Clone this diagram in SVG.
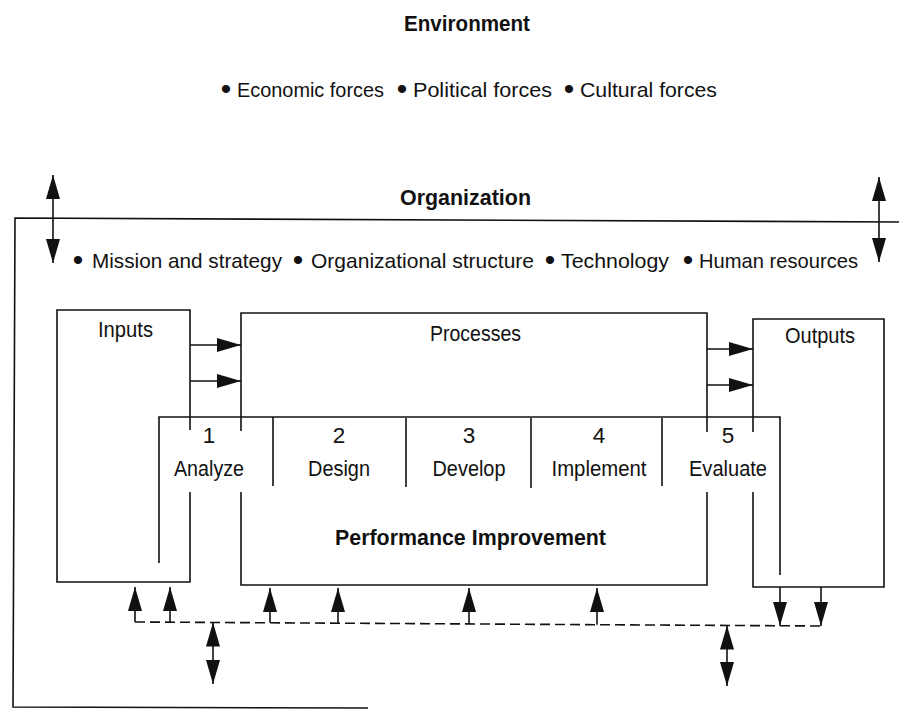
<svg xmlns="http://www.w3.org/2000/svg" width="899" height="709" viewBox="0 0 899 709">
  <style>
    .ln { fill: none; stroke: #111; stroke-width: 1.6; }
    .dash { fill: none; stroke: #111; stroke-width: 1.6; stroke-dasharray: 10 5; }
    .t { font-family: "Liberation Sans", Arial, sans-serif; font-size: 22.5px; fill: #111; }
    .f { font-family: "Liberation Sans", Arial, sans-serif; font-size: 21px; fill: #111; }
    .tb { font-family: "Liberation Sans", Arial, sans-serif; font-size: 22.5px; font-weight: bold; fill: #111; }
    .bul { font-family: "Liberation Sans", Arial, sans-serif; font-size: 30px; fill: #111; text-anchor: middle; }
    .mid { text-anchor: middle; }
    .arr { fill: none; stroke: #111; stroke-width: 1.6; marker-end: url(#ah); }
    .dbl { fill: none; stroke: #111; stroke-width: 1.6; marker-start: url(#ah); marker-end: url(#ah); }
  </style>
  <defs>
    <marker id="ah" viewBox="0 0 24 14" refX="24" refY="7" markerWidth="24" markerHeight="14" markerUnits="userSpaceOnUse" orient="auto-start-reverse">
      <path d="M0,0 L24,7 L0,14 z" fill="#111"/>
    </marker>
  </defs>

  <rect width="899" height="709" fill="#fff"/>

  <!-- Environment -->
  <g id="environment">
    <text class="tb" x="404" y="31" textLength="126" lengthAdjust="spacingAndGlyphs">Environment</text>
    <text class="bul" x="226" y="99">•</text>
    <text class="f" x="237" y="97" textLength="147" lengthAdjust="spacingAndGlyphs">Economic forces</text>
    <text class="bul" x="402" y="99">•</text>
    <text class="f" x="413" y="97" textLength="139" lengthAdjust="spacingAndGlyphs">Political forces</text>
    <text class="bul" x="569" y="99">•</text>
    <text class="f" x="580" y="97" textLength="137" lengthAdjust="spacingAndGlyphs">Cultural forces</text>
  </g>

  <!-- Organization frame and factors -->
  <g id="organization">
    <path class="ln" d="M899,222 L15,218 L13,707 L368,708"/>
    <text class="tb" x="400" y="205" textLength="131" lengthAdjust="spacingAndGlyphs">Organization</text>
    <text class="bul" x="78" y="270">•</text>
    <text class="f" x="92" y="268" textLength="190" lengthAdjust="spacingAndGlyphs">Mission and strategy</text>
    <text class="bul" x="298" y="270">•</text>
    <text class="f" x="311" y="268" textLength="223" lengthAdjust="spacingAndGlyphs">Organizational structure</text>
    <text class="bul" x="550" y="270">•</text>
    <text class="f" x="561" y="268" textLength="108" lengthAdjust="spacingAndGlyphs">Technology</text>
    <text class="bul" x="688" y="270">•</text>
    <text class="f" x="699" y="268" textLength="159" lengthAdjust="spacingAndGlyphs">Human resources</text>
  </g>

  <!-- Inputs -->
  <g id="inputs">
    <path class="ln" d="M190,430 V310 H57 V582 H190 V492"/>
    <text class="t" x="98" y="337" textLength="55" lengthAdjust="spacingAndGlyphs">Inputs</text>
  </g>

  <!-- Processes -->
  <g id="processes">
    <path class="ln" d="M241,431 V313 H707 V432"/>
    <path class="ln" d="M241,492 V585 H707 V492"/>
    <text class="t" x="430" y="341" textLength="91" lengthAdjust="spacingAndGlyphs">Processes</text>
  </g>

  <!-- Outputs -->
  <g id="outputs">
    <path class="ln" d="M753,432 V319 H884 V587 H753 V492"/>
    <text class="t" x="785" y="343" textLength="70" lengthAdjust="spacingAndGlyphs">Outputs</text>
  </g>

  <!-- Performance improvement band with its five steps -->
  <g id="performance-improvement">
    <path class="ln" d="M159,563 V417 H780 V575"/>
    <path class="ln" d="M273,417 V486 M406,418 V487 M531,418 V488 M662,418 V486"/>
    <text class="t mid" x="209" y="443">1</text>
    <text class="t mid" x="209" y="476" textLength="70" lengthAdjust="spacingAndGlyphs">Analyze</text>
    <text class="t mid" x="339" y="443">2</text>
    <text class="t mid" x="339" y="476" textLength="62" lengthAdjust="spacingAndGlyphs">Design</text>
    <text class="t mid" x="469" y="443">3</text>
    <text class="t mid" x="469" y="476" textLength="73" lengthAdjust="spacingAndGlyphs">Develop</text>
    <text class="t mid" x="599" y="443">4</text>
    <text class="t mid" x="599" y="476" textLength="95" lengthAdjust="spacingAndGlyphs">Implement</text>
    <text class="t mid" x="728" y="443">5</text>
    <text class="t mid" x="728" y="476" textLength="78" lengthAdjust="spacingAndGlyphs">Evaluate</text>
    <text class="tb" x="335" y="545" textLength="271" lengthAdjust="spacingAndGlyphs">Performance Improvement</text>
  </g>

  <!-- Connectors -->
  <g id="connectors">
    <path class="dbl" d="M53,175 V263"/>
    <path class="dbl" d="M879,177 V262"/>
    <path class="arr" d="M190,345 H241"/>
    <path class="arr" d="M190,381 H241"/>
    <path class="arr" d="M707,349 H753"/>
    <path class="arr" d="M707,385 H753"/>
    <path class="dash" d="M135,622 L821,626"/>
    <path class="arr" d="M135,622 V587"/>
    <path class="arr" d="M170,622.2 V587"/>
    <path class="arr" d="M270,622.8 V588"/>
    <path class="arr" d="M338,623.2 V588"/>
    <path class="arr" d="M469,624 V588"/>
    <path class="arr" d="M597,624.7 V588"/>
    <path class="arr" d="M780,587 V625.8"/>
    <path class="arr" d="M821,587 V626"/>
    <path class="dbl" d="M213,622.5 V684"/>
    <path class="dbl" d="M727,625.5 V686"/>
  </g>
</svg>
